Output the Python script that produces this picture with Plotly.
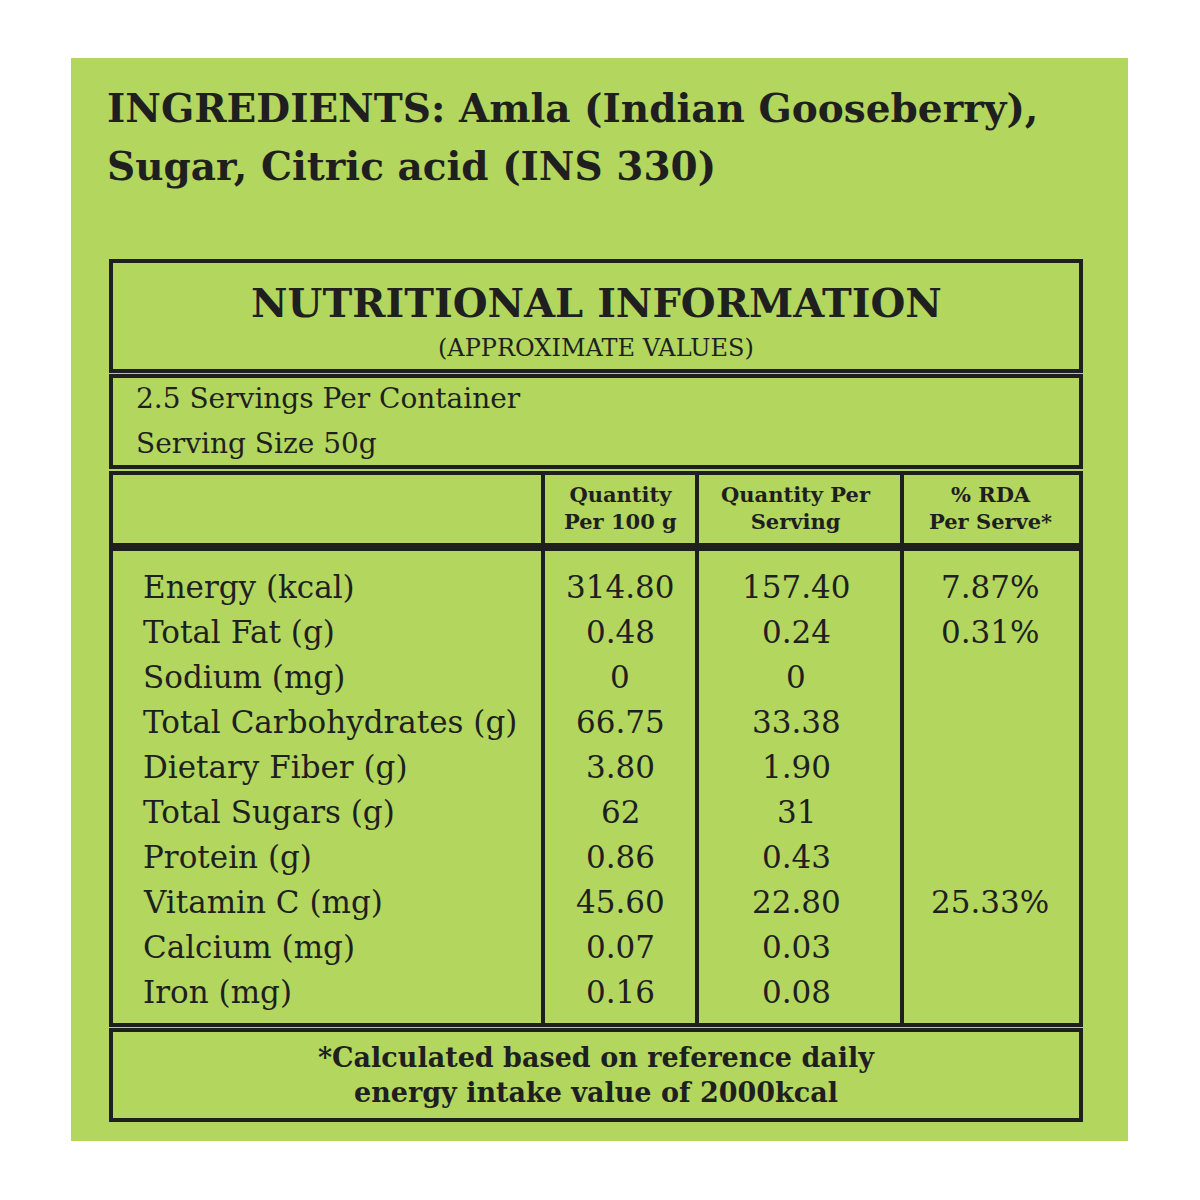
import plotly.graph_objects as go

nutrients = ["Energy (kcal)", "Total Fat (g)", "Sodium (mg)", "Total Carbohydrates (g)",
             "Dietary Fiber (g)", "Total Sugars (g)", "Protein (g)", "Vitamin C (mg)",
             "Calcium (mg)", "Iron (mg)"]
per_100g = ["314.80", "0.48", "0", "66.75", "3.80", "62", "0.86", "45.60", "0.07", "0.16"]
per_serving = ["157.40", "0.24", "0", "33.38", "1.90", "31", "0.43", "22.80", "0.03", "0.08"]
rda = ["7.87%", "0.31%", "", "", "", "", "", "25.33%", "", ""]
col_heads = ["Quantity<br>Per 100 g", "Quantity Per<br>Serving", "% RDA<br>Per Serve*"]

FONT = "DejaVu Serif"
INK = "#1f1f1f"
fig = go.Figure()
shapes = []
ann = []

# green panel
shapes.append(dict(type="rect", x0=71, x1=1128, y0=58, y1=1141, line_width=0,
                   fillcolor="#b2d65e", layer="below"))

def box(x0, y0, x1, y1):
    shapes.append(dict(type="rect", x0=x0, x1=x1, y0=y0, y1=y1,
                       line=dict(color=INK, width=4)))

box(111, 261, 1081, 371)
box(111, 376, 1081, 467)
box(111, 473, 1081, 545)
box(111, 549, 1081, 1025)
box(111, 1030, 1081, 1120)
for x in [543, 697, 902]:
    shapes.append(dict(type="line", x0=x, x1=x, y0=473, y1=1025, line=dict(color=INK, width=4)))

def txt(x, y, s, size, anchor="left", bold=False):
    ann.append(dict(x=x, y=y, text=f"<b>{s}</b>" if bold else s, showarrow=False,
                    xanchor=anchor, yanchor="middle", align="center",
                    font=dict(family=FONT, size=size, color=INK)))

txt(105, 108, "INGREDIENTS: Amla (Indian Gooseberry),", 39, bold=True)
txt(105, 166, "Sugar, Citric acid (INS 330)", 39, bold=True)
txt(596, 302, "NUTRITIONAL INFORMATION", 40, "center", True)
txt(596, 348, "(APPROXIMATE VALUES)", 24, "center")
txt(134, 398, "2.5 Servings Per Container", 28)
txt(134, 443, "Serving Size 50g", 28)

col_x = [620, 796, 990]
for cx, h in zip(col_x, col_heads):
    txt(cx, 508, h, 21, "center", True)

for i, name in enumerate(nutrients):
    y = 587 + 45 * i
    txt(141, y, name, 31)
    txt(col_x[0], y, per_100g[i], 31, "center")
    txt(col_x[1], y, per_serving[i], 31, "center")
    if rda[i]:
        txt(col_x[2], y, rda[i], 31, "center")

txt(596, 1075, "*Calculated based on reference daily<br>energy intake value of 2000kcal", 27, "center", True)

fig.update_layout(width=1200, height=1200, margin=dict(l=0, r=0, t=0, b=0),
                  paper_bgcolor="white", plot_bgcolor="white",
                  xaxis=dict(range=[8, 1208], visible=False, fixedrange=True),
                  yaxis=dict(range=[1208, 8], visible=False, fixedrange=True),
                  shapes=shapes, annotations=ann, showlegend=False)
fig.write_html("out.html")
